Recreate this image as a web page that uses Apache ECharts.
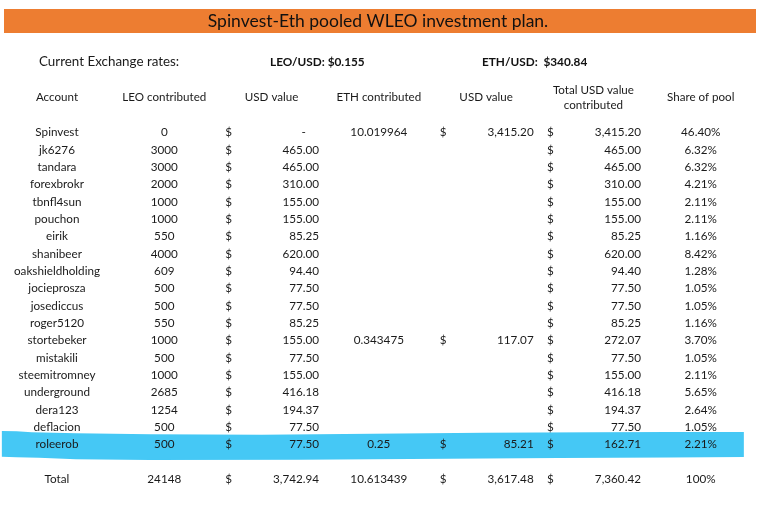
<!DOCTYPE html>
<html>
<head>
<meta charset="utf-8">
<script src="https://cdn.jsdelivr.net/npm/echarts@6/dist/echarts.min.js"></script>
<style>
  html, body { margin: 0; padding: 0; background: #fff; }
  #chart { width: 768px; height: 525px; }
</style>
</head>
<body>
<div id="chart"></div>
<script>
// exchange rates
const leoUsdRate = 0.155;
const ethUsdRate = 340.84;

const accounts = ["Spinvest", "jk6276", "tandara", "forexbrokr", "tbnfl4sun", "pouchon", "eirik",
  "shanibeer", "oakshieldholding", "jocieprosza", "josediccus", "roger5120", "stortebeker",
  "mistakili", "steemitromney", "underground", "dera123", "deflacion", "roleerob"];
const leoContributed = [0, 3000, 3000, 2000, 1000, 1000, 550, 4000, 609, 500, 500, 550, 1000, 500, 1000, 2685, 1254, 500, 500];
const leoUsdValue = [0, 465.00, 465.00, 310.00, 155.00, 155.00, 85.25, 620.00, 94.40, 77.50, 77.50, 85.25, 155.00, 77.50, 155.00, 416.18, 194.37, 77.50, 77.50];
const ethContributed = [10.019964, null, null, null, null, null, null, null, null, null, null, null, 0.343475, null, null, null, null, null, 0.25];
const ethUsdValue = [3415.20, null, null, null, null, null, null, null, null, null, null, null, 117.07, null, null, null, null, null, 85.21];
const totalUsdValue = [3415.20, 465.00, 465.00, 310.00, 155.00, 155.00, 85.25, 620.00, 94.40, 77.50, 77.50, 85.25, 272.07, 77.50, 155.00, 416.18, 194.37, 77.50, 162.71];
const shareOfPool = [46.40, 6.32, 6.32, 4.21, 2.11, 2.11, 1.16, 8.42, 1.28, 1.05, 1.05, 1.16, 3.70, 1.05, 2.11, 5.65, 2.64, 1.05, 2.21];

// totals row
const totalLeo = 24148;
const totalLeoUsd = 3742.94;
const totalEth = 10.613439;
const totalEthUsd = 3617.48;
const totalUsd = 7360.42;
const totalShare = 100;

const highlighted = ["roleerob"];

const columnKeys = ["account", "leo", "leoUsd", "eth", "ethUsd", "total", "share"];
const columnHeaders = ["Account", "LEO contributed", "USD value", "ETH contributed", "USD value", "Total USD value\ncontributed", "Share of pool"];

const rows = accounts.concat(["", "Total"]);
const totalRow = rows.length - 1;

const FONT = "Lato";
const TEXT = "#1a1a1a";
const cellFont = "11.7px " + FONT;

function money(v) {
  if (v === 0) return "-";
  return v.toLocaleString("en-US", { minimumFractionDigits: 2, maximumFractionDigits: 2 });
}

function cells(values, total) {
  const out = [];
  values.forEach((v, i) => { if (v !== null) out.push([0, i, v]); });
  out.push([0, totalRow, total]);
  return out;
}

function txt(x, y, s, align) {
  return { type: "text", x: x, y: y, style: { text: s, font: cellFont, fill: TEXT, align: align, verticalAlign: "middle" } };
}

// plain centered column
function plainSeries(col, data, fmt) {
  return {
    type: "custom", z: 3, silent: true,
    data: data.map(d => [col, d[1], d[2]]),
    renderItem: function (params, api) {
      const p = api.coord([api.value(0), api.value(1)]);
      return txt(p[0], p[1], fmt(api.value(2), api.value(1)), "center");
    }
  };
}

// accounting column: "$" on the left, amount right aligned
function moneySeries(col, data) {
  return {
    type: "custom", z: 3, silent: true,
    data: data.map(d => [col, d[1], d[2]]),
    renderItem: function (params, api) {
      const p = api.coord([api.value(0), api.value(1)]);
      const bw = api.size([1, 0])[0];
      const v = api.value(2);
      const amount = v === 0
        ? txt(p[0] + 0.3 * bw, p[1], "-", "center")
        : txt(p[0] + 0.443 * bw, p[1], money(v), "right");
      return { type: "group", children: [txt(p[0] - 0.4 * bw, p[1], "$", "center"), amount] };
    }
  };
}

// brush-stroke highlight behind a row (offsets relative to row centre, fractions of stroke width)
const brushTop = [[0.0, -13.3], [0.02, -13], [0.04, -12], [0.1, -11], [0.2, -10], [0.35, -9.5],
  [0.5, -10.5], [0.65, -11.5], [0.8, -12], [0.9, -12.3], [1.0, -12.3]];
const brushBottom = [[1.0, 12.7], [0.9, 13.2], [0.75, 13.7], [0.6, 14.5], [0.4, 15.5], [0.2, 15.7],
  [0.1, 15], [0.05, 13.5], [0.02, 12.8], [0.0, 12.5]];

const chart = echarts.init(document.getElementById("chart"), null, { renderer: "canvas" });

chart.setOption({
  backgroundColor: "#fff",
  animation: false,
  grid: { left: 3.35, right: 13.65, top: 132.7, bottom: 46, outerBoundsMode: "none" },
  xAxis: {
    type: "category",
    position: "top",
    data: columnKeys,
    axisLine: { show: false },
    axisTick: { show: false },
    splitLine: { show: false },
    axisLabel: {
      interval: 0,
      margin: 35,
      verticalAlign: "middle",
      fontFamily: FONT,
      fontSize: 11.6,
      lineHeight: 15.5,
      color: TEXT,
      formatter: function (v, i) { return columnHeaders[i]; }
    }
  },
  yAxis: {
    type: "category",
    data: rows,
    inverse: true,
    boundaryGap: false,
    show: false
  },
  graphic: [
    { type: "rect", shape: { x: 4, y: 9, width: 752, height: 24 }, style: { fill: "#ED7D31" }, z: 0 },
    { type: "text", x: 378, y: 21.5, style: { text: "Spinvest-Eth pooled WLEO investment plan.", font: "17.5px " + FONT, fill: "#111", align: "center", verticalAlign: "middle" } },
    { type: "text", x: 39, y: 61.7, style: { text: "Current Exchange rates:", font: "13.4px " + FONT, fill: TEXT, align: "left", verticalAlign: "middle" } },
    { type: "text", x: 270, y: 61.7, style: { text: "LEO/USD: $" + leoUsdRate, font: "bold 11.8px " + FONT, fill: "#111", align: "left", verticalAlign: "middle" } },
    { type: "text", x: 482, y: 61.7, style: { text: "ETH/USD:  $" + ethUsdRate.toFixed(2), font: "bold 11.8px " + FONT, fill: "#111", align: "left", verticalAlign: "middle" } }
  ],
  series: [
    {
      type: "custom", z: 1, silent: true,
      data: highlighted.map(name => [0, rows.indexOf(name)]),
      renderItem: function (params, api) {
        const p = api.coord([0, api.value(1)]);
        const bw = api.size([1, 0])[0];
        const x0 = p[0] - bw / 2 - 1.5;
        const w = bw * columnKeys.length - 9;
        const pts = brushTop.concat(brushBottom).map(q => [x0 + q[0] * w, p[1] + q[1]]);
        return { type: "polygon", shape: { points: pts }, style: { fill: "#45C8F5" } };
      }
    },
    plainSeries(0, rows.map((r, i) => [0, i, i]).filter(d => rows[d[1]] !== ""), (v, r) => rows[r]),
    plainSeries(1, cells(leoContributed, totalLeo), v => String(v)),
    moneySeries(2, cells(leoUsdValue, totalLeoUsd)),
    plainSeries(3, cells(ethContributed, totalEth), v => String(v)),
    moneySeries(4, cells(ethUsdValue, totalEthUsd)),
    moneySeries(5, cells(totalUsdValue, totalUsd)),
    plainSeries(6, cells(shareOfPool, totalShare), v => v === 100 ? "100%" : v.toFixed(2) + "%")
  ]
});
</script>
</body>
</html>
